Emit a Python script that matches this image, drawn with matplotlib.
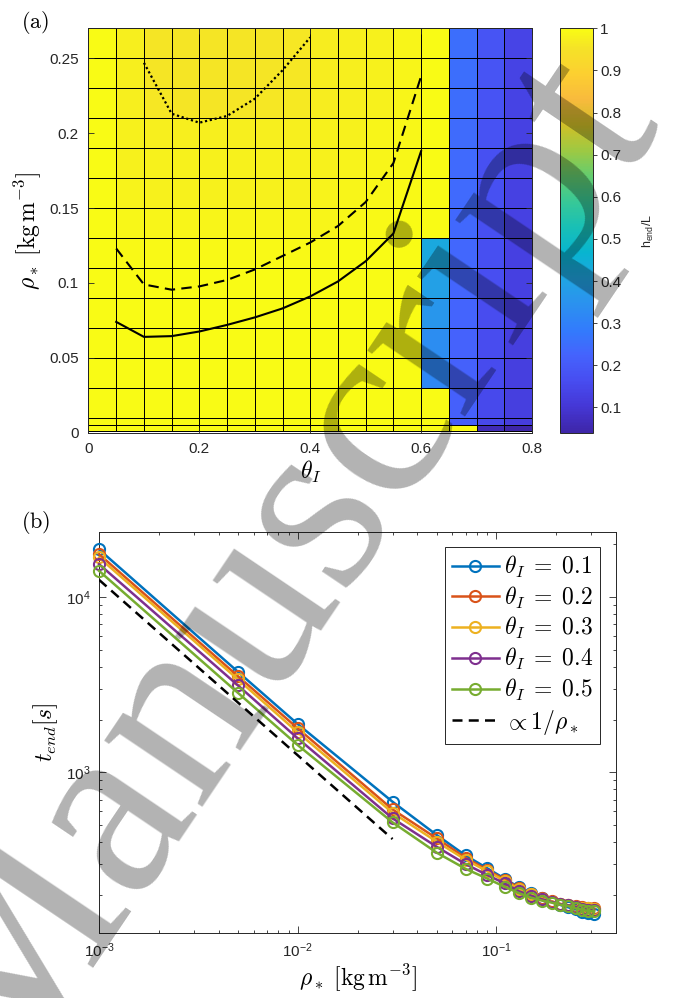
import numpy as np
import matplotlib
matplotlib.use('Agg')
import matplotlib.pyplot as plt
from matplotlib.colors import LinearSegmentedColormap
from matplotlib.ticker import LogLocator

plt.rcParams['font.family'] = ['Liberation Sans', 'DejaVu Sans']
plt.rcParams['mathtext.fontset'] = 'custom'
plt.rcParams['mathtext.rm'] = 'Liberation Sans'
plt.rcParams['mathtext.it'] = 'Liberation Sans:italic'
plt.rcParams['mathtext.bf'] = 'Liberation Sans:bold'

# --------------------------
# Donnees panneau (a) : h_end/L sur la grille theta_I / rho_*
# --------------------------
theta_edges = [0, 0.05, 0.1, 0.15, 0.2, 0.25, 0.3, 0.35, 0.4,
               0.45, 0.5, 0.55, 0.6, 0.65, 0.7, 0.75, 0.8]
rho_edges = [0.001, 0.005, 0.01, 0.03, 0.05, 0.07, 0.09, 0.11,
             0.13, 0.15, 0.17, 0.19, 0.21, 0.23, 0.25, 0.27]

# lignes du bas vers le haut, colonnes theta = 0 ... 0.75
h_end = [
    [1.0, 1.0, 1.0, 1.0, 1.0, 1.0, 1.0, 1.0, 1.0, 1.0, 1.0, 1.0, 1.0, 1.0, 0.06, 0.04],
    [1.0, 1.0, 1.0, 1.0, 1.0, 1.0, 1.0, 1.0, 1.0, 1.0, 1.0, 1.0, 1.0, 0.212, 0.152, 0.122],
    [1.0, 1.0, 1.0, 1.0, 1.0, 1.0, 1.0, 1.0, 1.0, 1.0, 1.0, 1.0, 1.0, 0.215, 0.155, 0.124],
    [1.0, 1.0, 1.0, 1.0, 1.0, 1.0, 1.0, 1.0, 1.0, 1.0, 1.0, 1.0, 0.314, 0.218, 0.157, 0.125],
    [1.0, 1.0, 1.0, 1.0, 1.0, 1.0, 1.0, 1.0, 1.0, 1.0, 1.0, 1.0, 0.335, 0.222, 0.16, 0.126],
    [1.0, 1.0, 1.0, 1.0, 1.0, 1.0, 1.0, 1.0, 1.0, 1.0, 1.0, 1.0, 0.36, 0.226, 0.162, 0.127],
    [1.0, 0.998, 0.998, 0.998, 0.998, 0.998, 0.998, 0.998, 0.998, 1.0, 1.0, 1.0, 0.39, 0.23, 0.165, 0.128],
    [1.0, 0.995, 0.995, 0.995, 0.995, 0.995, 0.995, 0.995, 0.995, 0.998, 1.0, 1.0, 0.421, 0.232, 0.168, 0.128],
    [1.0, 0.99, 0.985, 0.985, 0.985, 0.985, 0.985, 0.985, 0.988, 0.99, 0.995, 1.0, 1.0, 0.236, 0.17, 0.13],
    [1.0, 0.982, 0.98, 0.98, 0.98, 0.98, 0.98, 0.98, 0.982, 0.985, 0.99, 0.995, 1.0, 0.24, 0.173, 0.13],
    [1.0, 0.98, 0.978, 0.978, 0.978, 0.978, 0.978, 0.978, 0.98, 0.982, 0.985, 0.99, 1.0, 0.242, 0.175, 0.132],
    [1.0, 0.98, 0.975, 0.975, 0.975, 0.975, 0.975, 0.975, 0.978, 0.98, 0.985, 0.99, 1.0, 0.245, 0.178, 0.133],
    [1.0, 0.975, 0.96, 0.955, 0.955, 0.955, 0.96, 0.965, 0.97, 0.975, 0.98, 0.985, 1.0, 0.248, 0.18, 0.135],
    [1.0, 0.975, 0.955, 0.955, 0.955, 0.955, 0.955, 0.96, 0.97, 0.975, 0.98, 0.985, 1.0, 0.25, 0.183, 0.137],
    [1.0, 0.975, 0.955, 0.955, 0.955, 0.955, 0.955, 0.96, 0.97, 0.975, 0.98, 0.985, 1.0, 0.253, 0.185, 0.139],
]

# courbes iso (trait plein, tirets, pointilles)
theta_curve = [0.05, 0.1, 0.15, 0.2, 0.25, 0.3, 0.35, 0.4, 0.45, 0.5, 0.55, 0.6]
rho_solid = [0.074, 0.064, 0.0645, 0.0676, 0.072, 0.077, 0.083, 0.091, 0.101, 0.1145, 0.133, 0.188]
rho_dashed = [0.123, 0.099, 0.0955, 0.0977, 0.102, 0.109, 0.118, 0.127, 0.138, 0.154, 0.180, 0.238]
theta_dotted = [0.1, 0.15, 0.2, 0.25, 0.3, 0.35, 0.4]
rho_dotted = [0.247, 0.213, 0.207, 0.2115, 0.223, 0.242, 0.264]

a_xticks = [0, 0.2, 0.4, 0.6, 0.8]
a_xticklabels = ['0', '0.2', '0.4', '0.6', '0.8']
a_yticks = [0, 0.05, 0.1, 0.15, 0.2, 0.25]
a_yticklabels = ['0', '0.05', '0.1', '0.15', '0.2', '0.25']
cb_ticks = [0.1, 0.2, 0.3, 0.4, 0.5, 0.6, 0.7, 0.8, 0.9, 1.0]
cb_ticklabels = ['0.1', '0.2', '0.3', '0.4', '0.5', '0.6', '0.7', '0.8', '0.9', '1']

# --------------------------
# Donnees panneau (b) : t_end en fonction de rho_*
# --------------------------
rho_vals = [0.001, 0.005, 0.01, 0.03, 0.05, 0.07, 0.09, 0.11, 0.13,
            0.15, 0.17, 0.19, 0.21, 0.23, 0.25, 0.27, 0.29, 0.31]
theta_vals = ['0.1', '0.2', '0.3', '0.4', '0.5']
t_end = [
    [18620, 3740, 1884, 680, 440, 336, 284, 248, 221, 204.6, 193, 183.3, 175.6, 170.3, 165.9, 160.7, 157.4, 156],
    [17500, 3532, 1781, 615, 421, 326, 278, 245, 219.5, 203, 192, 184, 178, 175, 173, 170, 168, 168],
    [16750, 3386, 1690, 589, 403, 318, 273, 241, 216, 202, 191, 183.5, 177.5, 174.5, 172, 169.5, 168, 167.5],
    [15350, 3130, 1562, 547, 377, 300, 260, 233, 210, 198, 189, 182.6, 177, 174.7, 171.3, 167.6, 165.2, 164.5],
    [14060, 2838, 1430, 519, 349, 282, 248, 223, 205, 193, 185.8, 181, 176, 173, 168, 165, 162.3, 161.5],
]
fit_rho = [0.001, 0.03]
fit_t = [12500, 417]

line_colors = ['#0072BD', '#D95319', '#EDB120', '#7E2F8E', '#77AC30']

# colormap parula (MATLAB), sous-echantillonnee
parula_pts = [
    (0, (0.2422, 0.1504, 0.6603)), (4, (0.2706, 0.2147, 0.8364)),
    (8, (0.2813, 0.3006, 0.9414)), (12, (0.2699, 0.3892, 0.9906)),
    (16, (0.1963, 0.4847, 0.9892)), (20, (0.1687, 0.5703, 0.9359)),
    (24, (0.1248, 0.6459, 0.8883)), (28, (0.0297, 0.7082, 0.8163)),
    (32, (0.0964, 0.7500, 0.7120)), (36, (0.2161, 0.7843, 0.5923)),
    (40, (0.3909, 0.8029, 0.4354)), (44, (0.6174, 0.7876, 0.2612)),
    (48, (0.8203, 0.7498, 0.1535)), (52, (0.9728, 0.7298, 0.2394)),
    (56, (0.9892, 0.8136, 0.1885)), (60, (0.9610, 0.8890, 0.1537)),
    (63, (0.9769, 0.9839, 0.0805)),
]
parula = LinearSegmentedColormap.from_list('parula', [(i / 63, c) for i, c in parula_pts])

gray = '0.15'

fig = plt.figure(figsize=(6.75, 9.98), dpi=100)

# --------------------------
# Panneau (a)
# --------------------------
ax1 = fig.add_axes([0.1311, 0.5664, 0.657, 0.4052])
mesh = ax1.pcolormesh(theta_edges, rho_edges, np.array(h_end), cmap=parula,
                      vmin=0.04, vmax=1.0, edgecolors='k', linewidth=0.6)
ax1.plot(theta_curve, rho_solid, color='k', lw=1.5)
ax1.plot(theta_curve, rho_dashed, color='k', lw=1.5, ls=(0, (5, 3)))
ax1.plot(theta_dotted, rho_dotted, color='k', lw=1.6, ls=(0, (1, 1.2)))
ax1.set_xlim(0, 0.8)
ax1.set_ylim(0, 0.27)
ax1.set_xticks(a_xticks)
ax1.set_xticklabels(a_xticklabels)
ax1.set_yticks(a_yticks)
ax1.set_yticklabels(a_yticklabels)
ax1.tick_params(direction='in', top=True, right=True, colors=gray,
                labelsize=11, length=4, width=0.6, pad=7)
for s in ax1.spines.values():
    s.set_color(gray)
    s.set_linewidth(0.7)
ax1.set_xlabel(r'$\theta_I$', fontsize=17, math_fontfamily='cm', labelpad=2)
ax1.set_ylabel(r'$\rho_*\ [\mathrm{kg\,m^{-3}}]$', fontsize=17,
               math_fontfamily='cm', labelpad=4)

cax = fig.add_axes([0.8296, 0.5664, 0.0489, 0.4052])
cb = fig.colorbar(mesh, cax=cax)
cb.set_ticks(cb_ticks)
cb.set_ticklabels(cb_ticklabels)
cax.tick_params(direction='out', colors=gray, labelsize=11, length=3,
                width=0.6, pad=2)
cb.outline.set_edgecolor(gray)
cb.outline.set_linewidth(0.7)
cb.set_label(r'h$_{\mathrm{end}}$/L', fontsize=9, color=gray, labelpad=14)

# --------------------------
# Panneau (b)
# --------------------------
ax2 = fig.add_axes([0.1467, 0.0654, 0.766, 0.4012])
for th, t, c in zip(theta_vals, t_end, line_colors):
    ax2.plot(rho_vals, t, '-o', color=c, lw=1.8, ms=8, mfc='none', mew=1.5,
             label=r'$\theta_I\;=\;%s$' % th, clip_on=False, zorder=3)
ax2.plot(fit_rho, fit_t, color='k', lw=1.8, ls=(0, (4, 2.5)),
         label=r'$\propto 1/\rho_*$', zorder=3)
ax2.set_xscale('log')
ax2.set_yscale('log')
ax2.set_xlim(1e-3, 0.4)
ax2.set_ylim(122, 2.33e4)
ax2.xaxis.set_major_locator(LogLocator(base=10, numticks=10))
ax2.yaxis.set_major_locator(LogLocator(base=10, numticks=10))
ax2.tick_params(which='both', direction='in', top=True, right=True,
                colors=gray, labelsize=11, width=0.6)
ax2.tick_params(which='major', length=5, pad=6)
ax2.tick_params(which='minor', length=2.5)
for s in ax2.spines.values():
    s.set_color(gray)
    s.set_linewidth(0.7)
ax2.set_xlabel(r'$\rho_*\ [\mathrm{kg\,m^{-3}}]$', fontsize=17,
               math_fontfamily='cm', labelpad=2)
ax2.set_ylabel(r'$t_{end}[s]$', fontsize=17, math_fontfamily='cm', labelpad=4)

leg = ax2.legend(loc='upper right', bbox_to_anchor=(0.969, 0.964),
                 borderaxespad=0, fontsize=17, fancybox=False, framealpha=1,
                 edgecolor=gray, handlelength=2.0, handletextpad=0.2,
                 labelspacing=0.2, borderpad=0.3)
leg.get_frame().set_linewidth(0.7)
for txt in leg.get_texts():
    txt.set_math_fontfamily('cm')

# etiquettes (a), (b)
fig.text(35 / 675, 1 - 22 / 998, r'$\mathrm{(a)}$', fontsize=16,
         math_fontfamily='cm', ha='center', va='center')
fig.text(36 / 675, 1 - 522 / 998, r'$\mathrm{(b)}$', fontsize=16,
         math_fontfamily='cm', ha='center', va='center')

# filigrane
fig.text(0.4163, 0.4299, 'Manuscript', fontsize=185, family='Liberation Serif',
         color='k', alpha=0.3, rotation=56, ha='center', va='center',
         rotation_mode='anchor', zorder=20)

fig.savefig('out.png', dpi=100)
